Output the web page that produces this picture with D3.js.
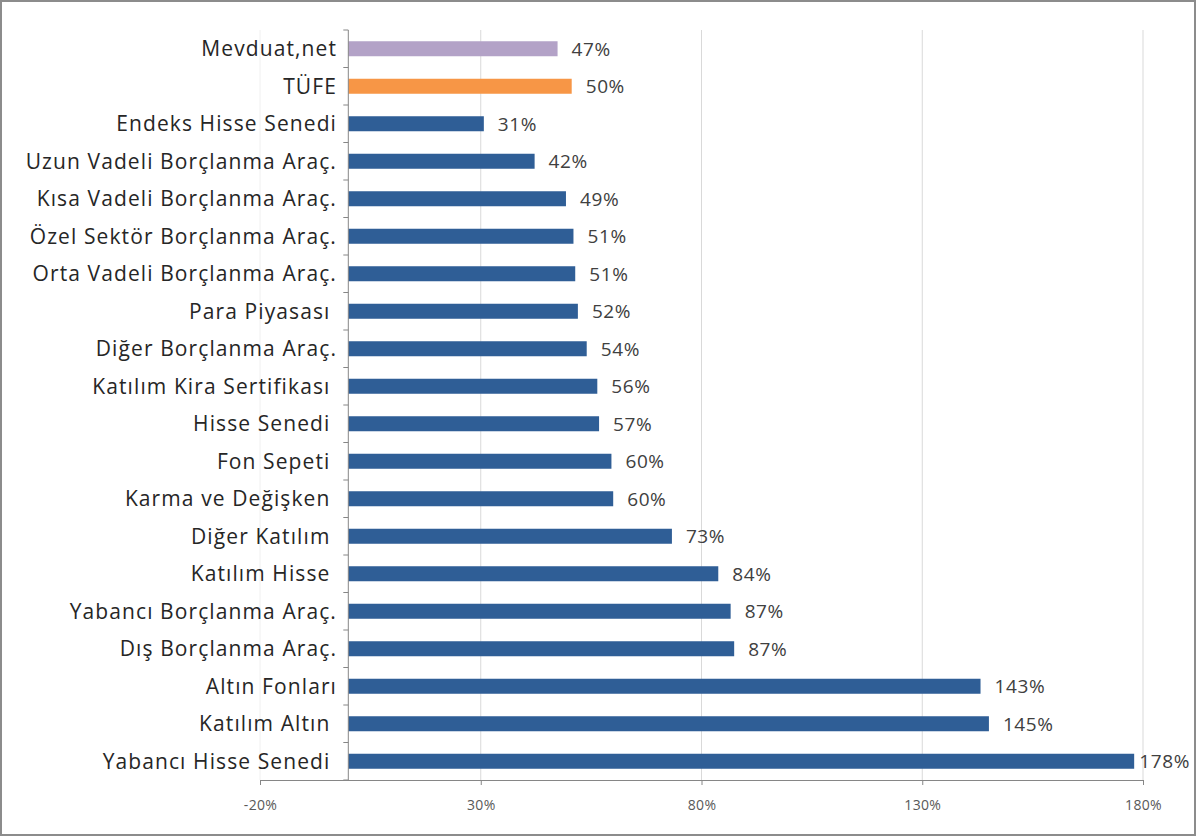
<!DOCTYPE html>
<html>
<head>
<meta charset="utf-8">
<script src="https://cdn.jsdelivr.net/npm/d3@7"></script>
<style>
  body { margin: 0; background: #fff; }
  svg { display: block; }
  text { font-family: "Open Sans", "Noto Sans", sans-serif; }
</style>
</head>
<body>
<svg id="chart" width="1196" height="836"></svg>
<script>
// categories top to bottom, trailing spaces kept as in the source sheet
var categories = ["Mevduat,net", "TÜFE", "Endeks Hisse Senedi", "Uzun Vadeli Borçlanma Araç.",
  "Kısa Vadeli Borçlanma Araç.", "Özel Sektör Borçlanma Araç.", "Orta Vadeli Borçlanma Araç.",
  "Para Piyasası ", "Diğer Borçlanma Araç.", "Katılım Kira Sertifikası ", "Hisse Senedi ",
  "Fon Sepeti ", "Karma ve Değişken ", "Diğer Katılım ", "Katılım Hisse ",
  "Yabancı Borçlanma Araç.", "Dış Borçlanma Araç.", "Altın Fonları", "Katılım Altın ",
  "Yabancı Hisse Senedi "];
var values = [47.4, 50.6, 30.7, 42.2, 49.3, 51.0, 51.4, 52.0, 54.0, 56.4, 56.8, 59.6, 60.0,
  73.3, 83.8, 86.6, 87.4, 143.2, 145.1, 178.0];
var labels = ["47%", "50%", "31%", "42%", "49%", "51%", "51%", "52%", "54%", "56%", "57%",
  "60%", "60%", "73%", "84%", "87%", "87%", "143%", "145%", "178%"];
var colors = ["#b3a2c7", "#f79646"]; // first two bars, the rest are blue
var ticks = [-20, 30, 80, 130, 180];

var W = 1196, H = 836;
var svg = d3.select("#chart");

// outer frame
svg.append("rect").attr("x", 1).attr("y", 1).attr("width", W - 2).attr("height", H - 2)
  .attr("fill", "#fff").attr("stroke", "#8c8c8c").attr("stroke-width", 2);

var x = d3.scaleLinear().domain([-20, 180]).range([260, 1143]);
var y = d3.scaleBand().domain(categories).range([30, 780]).paddingInner(0.6).paddingOuter(0.3);
var step = y.step();

// vertical gridlines (the leftmost one sits behind the labels and is barely seen)
svg.append("g").selectAll("line").data(ticks).join("line")
  .attr("x1", function(d){return x(d)}).attr("x2", function(d){return x(d)})
  .attr("y1", 30).attr("y2", 780)
  .attr("stroke", function(d){return d < 0 ? "#f0f0f0" : "#d9d9d9"}).attr("stroke-width", 1);

// bars
svg.append("g").selectAll("rect").data(categories).join("rect")
  .attr("x", x(0))
  .attr("y", function(d){return y(d)})
  .attr("width", function(d,i){return x(values[i]) - x(0)})
  .attr("height", y.bandwidth())
  .attr("fill", function(d,i){return i < 2 ? colors[i] : "#2f5e96"});

// bottom axis
var xAxis = svg.append("g").attr("transform", "translate(0,780)")
  .call(d3.axisBottom(x).tickValues(ticks).tickSize(5).tickPadding(15)
    .tickFormat(function(d){return d + "%"}));
xAxis.select(".domain").attr("stroke", "#868686");
xAxis.selectAll(".tick line").attr("stroke", "#868686");
xAxis.selectAll(".tick text").attr("fill", "#595959").style("font-size", "14px")
  .style("letter-spacing", "0.3px")
  .style("font-family", "'Open Sans', sans-serif");

// left axis at zero, ticks on category boundaries
var yl = svg.append("g");
yl.append("line").attr("x1", x(0)).attr("x2", x(0)).attr("y1", 30).attr("y2", 780)
  .attr("stroke", "#868686");
yl.selectAll("line.tk").data(d3.range(categories.length + 1)).join("line").attr("class", "tk")
  .attr("x1", x(0) - 5).attr("x2", x(0))
  .attr("y1", function(i){return 30 + i * step}).attr("y2", function(i){return 30 + i * step})
  .attr("stroke", "#868686");

// category labels
svg.append("g").selectAll("text").data(categories).join("text")
  .attr("x", 337)
  .attr("y", function(d){return y(d) + y.bandwidth() / 2})
  .attr("dy", "0.36em")
  .attr("text-anchor", "end")
  .style("white-space", "pre")
  .style("font-size", "21px")
  .style("letter-spacing", "1.1px")
  .attr("fill", "#262626")
  .text(function(d){return d});

// value labels, kept inside the chart frame
svg.append("g").selectAll("text").data(categories).join("text")
  .attr("y", function(d){return y(d) + y.bandwidth() / 2})
  .attr("dy", "0.36em")
  .style("font-size", "19px")
  .style("letter-spacing", "0.6px")
  .attr("fill", "#404040")
  .text(function(d,i){return labels[i]})
  .attr("x", function(d,i){
    var w = this.getComputedTextLength();
    return Math.min(x(values[i]) + 14, W - 6 - w);
  });
</script>
</body>
</html>
